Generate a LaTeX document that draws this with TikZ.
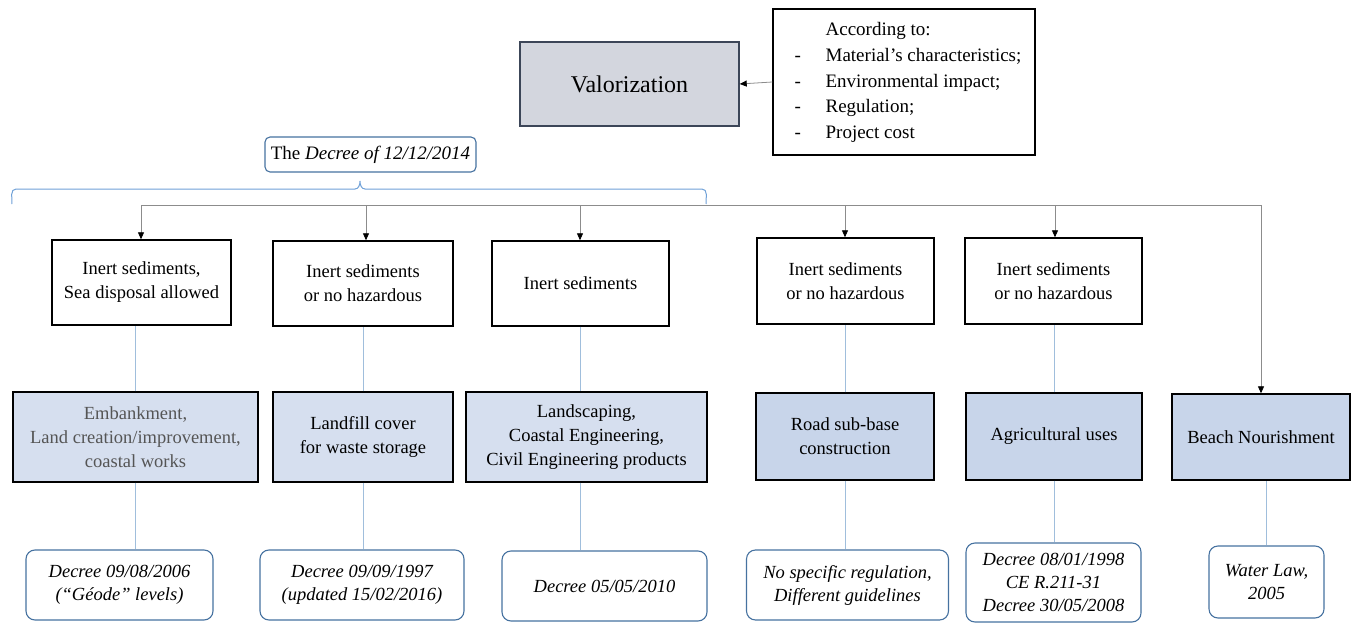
\documentclass[tikz,border=0pt]{standalone}
\usepackage{fontspec}
\setmainfont{Liberation Serif}
\usetikzlibrary{arrows.meta}
\definecolor{valfill}{RGB}{211,214,222}
\definecolor{valdraw}{RGB}{60,70,88}
\definecolor{lbfill}{RGB}{214,223,239}
\definecolor{bfill}{RGB}{200,213,234}
\definecolor{rblue}{RGB}{70,114,160}
\definecolor{braceblue}{RGB}{110,160,215}
\definecolor{connblue}{RGB}{160,190,220}
\definecolor{busgray}{RGB}{140,140,140}
\definecolor{txtgray}{RGB}{85,85,85}
\tikzset{
  txt/.style={font=\fontsize{18.5}{24}\selectfont},
  wbox/.style={txt, draw=black, line width=1.4pt, fill=white, align=center, inner sep=0pt},
  bbox/.style={txt, draw=black, line width=1.4pt, fill=bfill, align=center, inner sep=0pt},
  lbbox/.style={bbox, fill=lbfill},
  rbox/.style={font=\fontsize{18.5}{23}\selectfont\itshape, draw=rblue, line width=1.1pt, rounded corners=9pt, fill=white, align=center, inner sep=0pt},
  conn/.style={draw=connblue, line width=0.7pt},
  gline/.style={draw=busgray, line width=0.8pt},
  garrow/.style={draw=busgray, line width=0.8pt, -{Triangle[length=7pt,width=6pt,color=black]}},
}
\begin{document}
\begin{tikzpicture}[x=1pt,y=-1pt]
\useasboundingbox (0,0) rectangle (1355,623);
% top
\node[draw=valdraw, line width=1.4pt, fill=valfill, minimum width=219pt, minimum height=84pt, inner sep=0pt,
  font=\fontsize{24}{28}\selectfont] (val) at (629.5,84) {Valorization};
\node[draw=black, line width=1.4pt, fill=white, minimum width=262pt, minimum height=146pt, inner sep=0pt,
  font=\fontsize{19}{25.7}\selectfont] (crit) at (904,82)
  {\hspace*{8pt}\begin{tabular}{@{}p{31pt}@{}l@{}}
   & According to:\\
   - & Material’s characteristics;\\
   - & Environmental impact;\\
   - & Regulation;\\
   - & Project cost
   \end{tabular}};
\draw[garrow] (crit.west) -- (val.east);
\node[draw=rblue, line width=1.1pt, rounded corners=5pt, fill=white, minimum width=211pt, minimum height=35pt, inner sep=0pt,
  font=\fontsize{19}{23}\selectfont] (dec) at (370.5,154.5) {The \textit{Decree of 12/12/2014}};
% brace
\draw[braceblue, line width=1pt] (12,204) to[out=90,in=180] (16,189) -- (355,189)
  to[out=0,in=-90] (360,181) to[out=-90,in=180] (365,189) -- (702,189) to[out=0,in=90] (706,204);
% bus
\coordinate (b1) at (141,205);
\coordinate (b2) at (366,205);
\coordinate (b3) at (580,205);
\coordinate (b4) at (845,205);
\coordinate (b5) at (1055,205);
\coordinate (b6) at (1261,205);
\draw[gline] (b1) -- (b6);
% row 1
\node[wbox, minimum width=179pt, minimum height=85pt] (r1a) at (141.5,282.5) {Inert sediments,\\Sea disposal allowed};
\node[wbox, minimum width=180pt, minimum height=85pt] (r1b) at (363,283.5) {Inert sediments\\or no hazardous};
\node[wbox, minimum width=177pt, minimum height=85pt] (r1c) at (580.5,283.5) {Inert sediments};
\node[wbox, minimum width=177pt, minimum height=86pt] (r1d) at (845.5,281) {Inert sediments\\or no hazardous};
\node[wbox, minimum width=177pt, minimum height=86pt] (r1e) at (1053.5,281) {Inert sediments\\or no hazardous};
% row 2
\node[lbbox, minimum width=245pt, minimum height=90pt, text=txtgray] (r2a) at (135.5,437) {Embankment,\\Land creation/improvement,\\coastal works};
\node[lbbox, minimum width=180pt, minimum height=90pt] (r2b) at (363,437) {Landfill cover\\for waste storage};
\node[lbbox, minimum width=241pt, minimum height=90pt] (r2c) at (586.5,437) {Landscaping,\\Coastal Engineering,\\Civil Engineering products};
\node[bbox, minimum width=178pt, minimum height=87pt] (r2d) at (845,436.5) {Road sub-base\\construction};
\node[bbox, minimum width=176pt, minimum height=87pt] (r2e) at (1054,436.5) {Agricultural uses};
\node[bbox, minimum width=178pt, minimum height=86pt] (r2f) at (1261,437) {Beach Nourishment};
% row 3
\node[rbox, minimum width=187pt, minimum height=70pt] (r3a) at (119.5,585) {Decree 09/08/2006\\(“Géode” levels)};
\node[rbox, minimum width=204pt, minimum height=70pt] (r3b) at (362,585) {Decree 09/09/1997\\(updated 15/02/2016)};
\node[rbox, minimum width=205pt, minimum height=70pt] (r3c) at (604.5,586) {Decree 05/05/2010};
\node[rbox, minimum width=202pt, minimum height=70pt] (r3d) at (847.5,585) {No specific regulation,\\Different guidelines};
\node[rbox, minimum width=175pt, minimum height=79pt] (r3e) at (1053.5,582.5) {Decree 08/01/1998\\CE R.211-31\\Decree 30/05/2008};
\node[rbox, minimum width=115pt, minimum height=72pt] (r3f) at (1266.5,582) {Water Law,\\2005};
% arrows from bus
\draw[garrow] (b1) -- (b1 |- r1a.north);
\draw[garrow] (b2) -- (b2 |- r1b.north);
\draw[garrow] (b3) -- (b3 |- r1c.north);
\draw[garrow] (b4) -- (b4 |- r1d.north);
\draw[garrow] (b5) -- (b5 |- r1e.north);
\draw[garrow] (b6) -- (b6 |- r2f.north);
% connectors row1 -> row2
\draw[conn] (r2a.north) -- (r2a.north |- r1a.south);
\draw[conn] (r2b.north) -- (r2b.north |- r1b.south);
\draw[conn] (b3 |- r1c.south) -- (b3 |- r2c.north);
\draw[conn] (r2d.north) -- (r2d.north |- r1d.south);
\draw[conn] (r2e.north) -- (r2e.north |- r1e.south);
% connectors row2 -> row3
\draw[conn] (r2a.south) -- (r2a.south |- r3a.north);
\draw[conn] (r2b.south) -- (r2b.south |- r3b.north);
\draw[conn] (b3 |- r2c.south) -- (b3 |- r3c.north);
\draw[conn] (r2d.south) -- (r2d.south |- r3d.north);
\draw[conn] (r2e.south) -- (r2e.south |- r3e.north);
\draw[conn] (r3f.north) -- (r3f.north |- r2f.south);
\end{tikzpicture}
\end{document}
